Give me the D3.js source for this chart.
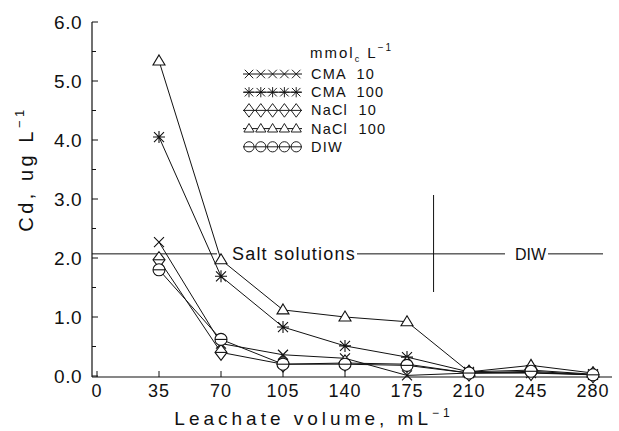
<!DOCTYPE html>
<html><head><meta charset="utf-8">
<script src="https://cdn.jsdelivr.net/npm/d3@7"></script>
<style>body{margin:0;background:#fff}svg{display:block}text{font-family:"Liberation Sans",Arial,sans-serif;fill:#111}</style>
</head><body><svg id="c" width="619" height="431"></svg>
<script>
const volumes = [35,70,105,140,175,210,245,280];
const cma10   = [2.27,0.55,0.36,0.30,0.01,0.05,0.05,0.02];
const cma100  = [4.05,1.69,0.83,0.51,0.32,0.07,0.10,0.03];
const nacl10  = [1.97,0.40,0.20,0.22,0.20,0.05,0.06,0.02];
const nacl100 = [5.34,1.97,1.12,1.00,0.92,0.07,0.18,0.05];
const diw     = [1.80,0.62,0.20,0.20,0.18,0.05,0.08,0.02];
const xTicks = [0,35,70,105,140,175,210,245,280];
const yTicks = [0,1,2,3,4,5,6];
const seriesNames = ["CMA  10","CMA  100","NaCl  10","NaCl  100","DIW"];
const seriesSymbols = ["x","star","diamond","triangle","circle"];
const boundaryLevel = 2.07;
const boundaryVolume = 190;

const svg = d3.select("#c");
const x = d3.scaleLinear().domain([0,280]).range([97,593]);
const y = d3.scaleLinear().domain([0,6]).range([376,22]);
const x0 = 92, yb = 377, xr = 612;

svg.append("line").attr("x1",x0).attr("x2",x0).attr("y1",yb).attr("y2",y(6)).attr("stroke","#111").attr("stroke-width",1.2);
svg.append("line").attr("x1",x0).attr("x2",xr).attr("y1",yb).attr("y2",yb).attr("stroke","#111").attr("stroke-width",1.2);
const yMinor = d3.range(0,6.01,0.5);
svg.selectAll(".ym").data(yMinor).join("line").attr("x1",x0).attr("x2",d=>x0+(d%1===0?6:4)).attr("y1",d=>y(d)).attr("y2",d=>y(d)).attr("stroke","#111");
svg.selectAll(".yl").data(yTicks).join("text").attr("x",x0-10).attr("y",d=>y(d)+7).attr("text-anchor","end").attr("font-size",19).attr("letter-spacing",0.5).text(d=>d.toFixed(1));
svg.selectAll(".xt").data(xTicks).join("line").attr("x1",d=>x(d)).attr("x2",d=>x(d)).attr("y1",yb).attr("y2",yb-6).attr("stroke","#111");
svg.selectAll(".xl").data(xTicks).join("text").attr("x",d=>x(d)).attr("y",yb+20).attr("text-anchor","middle").attr("font-size",18).attr("letter-spacing",1).text(d=>d);
const xt = svg.append("text").attr("x",314).attr("y",425).attr("text-anchor","middle").attr("font-size",19).attr("letter-spacing",4);
xt.append("tspan").text("Leachate volume, mL");
xt.append("tspan").attr("dy",-8).attr("font-size",12).text("−1");
const yt = svg.append("text").attr("transform","translate(33,169) rotate(-90)").attr("text-anchor","middle").attr("font-size",20).attr("letter-spacing",3.5);
yt.append("tspan").text("Cd,  ug  L");
yt.append("tspan").attr("dy",-9).attr("font-size",13).text("−1");

const by = y(boundaryLevel), bx = x(boundaryVolume);
svg.append("line").attr("x1",x0).attr("x2",217).attr("y1",by).attr("y2",by).attr("stroke","#111");
svg.append("text").attr("x",232).attr("y",by+6).attr("font-size",18).attr("letter-spacing",1.2).text("Salt solutions");
svg.append("line").attr("x1",357).attr("x2",505).attr("y1",by).attr("y2",by).attr("stroke","#111");
svg.append("text").attr("x",515).attr("y",by+6).attr("font-size",16).text("DIW");
svg.append("line").attr("x1",548).attr("x2",603).attr("y1",by).attr("y2",by).attr("stroke","#111");
svg.append("line").attr("x1",bx).attr("x2",bx).attr("y1",195).attr("y2",292).attr("stroke","#111");

function sym(g, type, cx, cy){
  const s = g.append("g").attr("transform",`translate(${cx},${cy})`).attr("fill","none").attr("stroke","#111").attr("stroke-width",1.1);
  if(type==="x"){ s.append("path").attr("d","M-5,-5L5,5M-5,5L5,-5"); }
  else if(type==="star"){ s.append("path").attr("d","M-5,-5L5,5M-5,5L5,-5M0,-6L0,6M-6,0L6,0"); }
  else if(type==="diamond"){ s.append("path").attr("d","M0,-8L6,0L0,8L-6,0Z").attr("fill","#fff"); s.append("path").attr("d","M-6,0L6,0"); }
  else if(type==="triangle"){ s.append("path").attr("d","M0,-6L6,4L-6,4Z").attr("fill","#fff"); }
  else if(type==="circle"){ s.append("circle").attr("r",6).attr("fill","#fff"); s.append("path").attr("d","M-6,0L6,0"); }
}
const allSeries = [cma10,cma100,nacl10,nacl100,diw];
const line = d3.line().x((d,i)=>x(volumes[i])).y(d=>y(d));
allSeries.forEach(vals=>{
  svg.append("path").attr("d",line(vals)).attr("fill","none").attr("stroke","#111").attr("stroke-width",1);
});
allSeries.forEach((vals,k)=>{
  const g = svg.append("g");
  vals.forEach((v,i)=>sym(g,seriesSymbols[k],x(volumes[i]),y(v)));
});

const lh = svg.append("text").attr("x",310).attr("y",58).attr("font-size",15).attr("letter-spacing",2);
lh.append("tspan").text("mmol");
lh.append("tspan").attr("dy",4).attr("font-size",9).text("c");
lh.append("tspan").attr("dy",-4).text(" L");
lh.append("tspan").attr("dy",-7).attr("font-size",10).text("−1");
seriesNames.forEach((n,k)=>{
  const ly = 74 + k*18.2;
  svg.append("line").attr("x1",243).attr("x2",302).attr("y1",ly).attr("y2",ly).attr("stroke","#111");
  d3.range(5).forEach(j=>{
    const gg = svg.append("g").attr("transform",`translate(${249+j*11.8},${ly}) scale(0.85)`);
    sym(gg,seriesSymbols[k],0,0);
  });
  svg.append("text").attr("x",311).attr("y",ly+5).attr("font-size",14.5).attr("letter-spacing",1.2).style("white-space","pre").text(n);
});
</script></body></html>
